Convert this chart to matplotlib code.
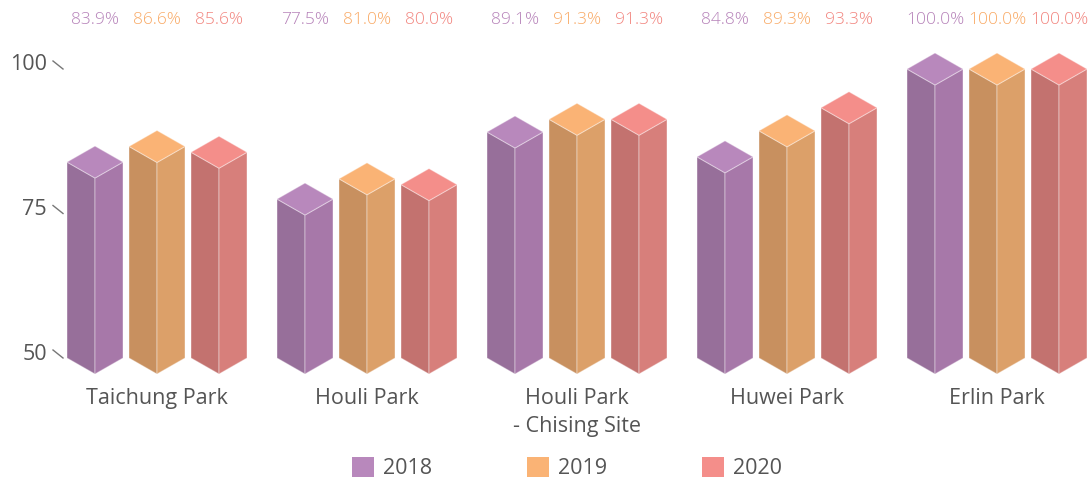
import matplotlib
matplotlib.use("Agg")
import matplotlib.pyplot as plt
from matplotlib.patches import Polygon, Patch
from matplotlib.lines import Line2D

# ---- data ----
categories = ["Taichung Park", "Houli Park", "Houli Park\n- Chising Site", "Huwei Park", "Erlin Park"]
years = ["2018", "2019", "2020"]
rate_2018 = [83.9, 77.5, 89.1, 84.8, 100.0]
rate_2019 = [86.6, 81.0, 91.3, 89.3, 100.0]
rate_2020 = [85.6, 80.0, 91.3, 93.3, 100.0]
y_ticks = [50, 75, 100]

series = [rate_2018, rate_2019, rate_2020]
# (top, left face, right face, label) colours per year
palette = [
    ("#b888bc", "#976f9a", "#a778a9", "#b682b9"),
    ("#fab375", "#c8905f", "#dca069", "#f9aa66"),
    ("#f48e8a", "#c3726f", "#d77f7b", "#f2857f"),
]

# ---- layout (px based: 1091 x 480) ----
W, H = 1091, 480
px_per_unit = 5.78          # vertical pixels per value unit
base_px = 358               # pixel row of value 50 (bar side corners)
group_px = 210              # pixel distance between categories
first_center_px = 157
bar_step = 62 / group_px    # offset between bars of a group (category units)
half_w = 28 / group_px      # half width of the prism footprint
depth = 16 / px_per_unit    # isometric rise of the top diamond (value units)
base_val = 50


def yval(py):
    return base_val + (base_px - py) / px_per_unit


def xval(px):
    return (px - first_center_px) / group_px


plt.rcParams["font.family"] = ["Open Sans", "DejaVu Sans"]

fig = plt.figure(figsize=(W / 100, H / 100), dpi=100)
ax = fig.add_axes([0, 0, 1, 1])
ax.set_xlim(xval(0), xval(W))
ax.set_ylim(yval(H), yval(0))
ax.axis("off")

edge_kw = dict(edgecolor=(1, 1, 1, 0.35), linewidth=0.8, joinstyle="round")

for j, vals in enumerate(series):
    top_c, left_c, right_c, lab_c = palette[j]
    for i, v in enumerate(vals):
        c = i + (j - 1) * bar_step
        l, r = c - half_w, c + half_w
        left_face = [(l, base_val), (l, v), (c, v - depth), (c, base_val - depth)]
        right_face = [(c, v - depth), (r, v), (r, base_val), (c, base_val - depth)]
        top_face = [(l, v), (c, v + depth), (r, v), (c, v - depth)]
        ax.add_patch(Polygon(left_face, closed=True, facecolor=left_c, **edge_kw))
        ax.add_patch(Polygon(right_face, closed=True, facecolor=right_c, **edge_kw))
        ax.add_patch(Polygon(top_face, closed=True, facecolor=top_c, **edge_kw))
        ax.text(c, yval(20), f"{v:.1f}%", ha="center", va="center",
                fontsize=12.5, color=lab_c, fontweight="light")

# y axis ticks: short diagonal strokes with labels
for t in y_ticks:
    ax.add_line(Line2D([xval(53), xval(63)], [t + 8 / px_per_unit, t],
                       color="#777777", linewidth=1.0))
    ax.text(xval(47), t + 4 / px_per_unit, str(t), ha="right", va="center",
            fontsize=15.5, color="#555555")

# category labels
for i, name in enumerate(categories):
    ax.text(i, yval(388), name, ha="center", va="top", fontsize=15.5,
            color="#555555", linespacing=1.45)

# legend
handles = [Patch(facecolor=palette[j][0], edgecolor="none", label=years[j]) for j in range(3)]
leg = ax.legend(handles=handles, loc="center", bbox_to_anchor=(567 / W, 1 - 468 / H),
                bbox_transform=fig.transFigure, ncol=3, frameon=False,
                fontsize=15.5, handlelength=1.02, handleheight=1.07,
                handletextpad=0.42, columnspacing=4.4, labelcolor="#555555")

fig.savefig("out.png", dpi=100)
